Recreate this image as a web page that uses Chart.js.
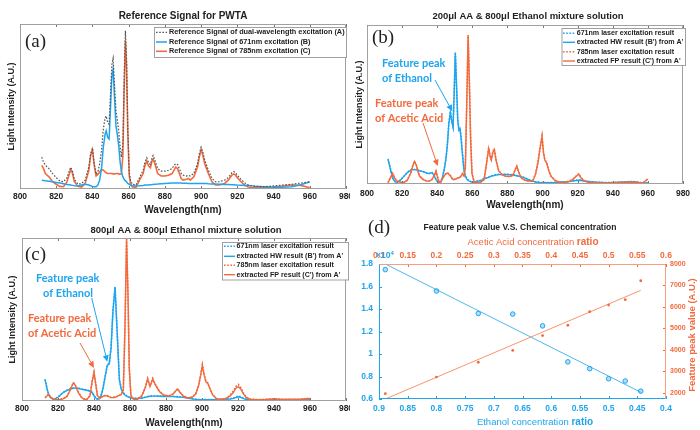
<!DOCTYPE html>
<html>
<head>
<meta charset="utf-8">
<script src="https://cdn.jsdelivr.net/npm/chart.js@4.4.1/dist/chart.umd.min.js"></script>
<style>
  html, body { margin: 0; padding: 0; background: #fff; }
  #wrap { position: relative; width: 700px; height: 430px; overflow: hidden; }
  #wrap canvas { position: absolute; }
</style>
</head>
<body>
<div id="wrap">
  <canvas id="pa" width="350" height="215" style="left:0;top:0"></canvas>
  <canvas id="pb" width="350" height="215" style="left:350px;top:0"></canvas>
  <canvas id="pc" width="350" height="215" style="left:0;top:215px"></canvas>
  <canvas id="pd" width="350" height="215" style="left:350px;top:215px"></canvas>
</div>
<script>
// ---- data (intensities normalised to the plot height) ----
const wlTicks = [800, 820, 840, 860, 880, 900, 920, 940, 960, 980];

// (a) reference signals
const wlA = [812, 813, 814, 816, 818, 820, 822, 824, 826, 827,
  828, 829, 830, 832, 834, 836, 838, 839, 840, 841,
  842, 843, 844, 845, 846, 847, 847.6, 848.4, 849.2, 850,
  850.7, 851.4, 852.2, 853, 853.7, 854.5, 855.3, 856, 856.8, 857.5,
  858.2, 858.8, 859.5, 860.3, 861, 862, 864, 866, 868, 869,
  870, 871, 872, 873, 873.5, 874.5, 876, 878, 880, 882,
  884, 885, 886, 887, 888, 889, 890, 892, 893, 894,
  896, 898, 899, 900, 901, 902, 903, 904, 906, 908,
  910, 913, 915, 917, 918, 919, 920, 922, 924, 926,
  928, 930, 935, 940, 945, 950, 955, 958, 960];
const refDual = [0.19, 0.16, 0.14, 0.12, 0.09, 0.065, 0.045, 0.04, 0.065, 0.10,
  0.128, 0.105, 0.055, 0.025, 0.03, 0.05, 0.13, 0.21, 0.245, 0.15,
  0.085, 0.1, 0.15, 0.23, 0.36, 0.43, 0.44, 0.40, 0.39, 0.58,
  0.75, 0.79, 0.63, 0.47, 0.42, 0.35, 0.25, 0.19, 0.27, 0.66,
  0.96, 0.80, 0.38, 0.10, 0.05, 0.025, 0.02, 0.065, 0.11, 0.16,
  0.185, 0.155, 0.145, 0.19, 0.20, 0.17, 0.12, 0.105, 0.105, 0.11,
  0.12, 0.14, 0.15, 0.145, 0.12, 0.09, 0.08, 0.075, 0.08, 0.075,
  0.09, 0.15, 0.21, 0.25, 0.22, 0.17, 0.14, 0.11, 0.06, 0.04,
  0.04, 0.05, 0.065, 0.095, 0.102, 0.095, 0.08, 0.055, 0.035, 0.02,
  0.015, 0.012, 0.01, 0.015, 0.02, 0.025, 0.032, 0.036, 0.04];
const ref671 = [0.05, 0.048, 0.046, 0.043, 0.04, 0.036, 0.032, 0.028, 0.024, 0.022,
  0.02, 0.018, 0.016, 0.014, 0.02, 0.025, 0.02, 0.016, 0.012, 0.01,
  0.01, 0.02, 0.05, 0.12, 0.25, 0.33, 0.35, 0.31, 0.30, 0.50,
  0.68, 0.725, 0.55, 0.38, 0.33, 0.26, 0.16, 0.10, 0.07, 0.055,
  0.045, 0.04, 0.03, 0.025, 0.02, 0.015, 0.015, 0.016, 0.018, 0.02,
  0.02, 0.021, 0.022, 0.023, 0.024, 0.025, 0.026, 0.028, 0.03, 0.031,
  0.032, 0.032, 0.032, 0.032, 0.032, 0.032, 0.031, 0.031, 0.03, 0.03,
  0.03, 0.03, 0.03, 0.03, 0.03, 0.029, 0.029, 0.028, 0.027, 0.026,
  0.025, 0.024, 0.023, 0.022, 0.022, 0.021, 0.02, 0.019, 0.018, 0.017,
  0.015, 0.013, 0.01, 0.007, 0.006, 0.01, 0.022, 0.032, 0.04];
const ref785 = [0.14, 0.12, 0.09, 0.07, 0.04, 0.025, 0.012, 0.01, 0.04, 0.08,
  0.115, 0.09, 0.04, 0.012, 0.008, 0.03, 0.11, 0.2, 0.235, 0.14,
  0.075, 0.085, 0.1, 0.115, 0.11, 0.1, 0.095, 0.09, 0.09, 0.09,
  0.09, 0.088, 0.088, 0.09, 0.09, 0.088, 0.085, 0.09, 0.2, 0.6,
  0.9, 0.75, 0.35, 0.08, 0.03, 0.01, 0.005, 0.05, 0.09, 0.14,
  0.165, 0.135, 0.125, 0.17, 0.178, 0.15, 0.09, 0.075, 0.075, 0.08,
  0.09, 0.11, 0.13, 0.12, 0.09, 0.06, 0.05, 0.055, 0.06, 0.05,
  0.07, 0.13, 0.19, 0.235, 0.2, 0.15, 0.12, 0.09, 0.04, 0.02,
  0.02, 0.03, 0.05, 0.08, 0.088, 0.08, 0.065, 0.04, 0.02, 0.008,
  0.004, 0.003, 0.004, 0.008, 0.014, 0.02, 0.018, 0.01, 0.003];

// (b) 200ul AA & 800ul ethanol
const wlB = [812, 813, 814.6, 816, 817, 819, 821, 823, 825, 826,
  827, 828, 829, 830, 832, 834, 835.5, 837, 838.3, 839.3,
  840.2, 841, 842, 843, 844, 845, 845.8, 846.6, 847.5, 848.2,
  849, 849.6, 850.3, 851, 851.7, 852.4, 853, 853.7, 854.4, 855.2,
  856, 856.8, 857.6, 858.3, 859, 859.8, 861, 863, 865, 866.7,
  868, 869.3, 870.2, 870.8, 871.7, 872.5, 873.5, 875, 877, 879,
  881, 883, 884.5, 885.3, 886.5, 887.8, 890, 892, 894.4, 896,
  897.3, 898.5, 899.7, 900.5, 901.3, 902.4, 903.6, 904.8, 907, 909.6,
  912, 915, 917.2, 919, 920.6, 922, 923.8, 926.7, 930, 935,
  940, 945, 950, 953, 955, 957, 960];
const laser671B = [0.155, 0.11, 0.035, 0.01, 0.005, 0.02, 0.045, 0.07, 0.085, 0.088,
  0.088, 0.087, 0.084, 0.08, 0.075, 0.066, 0.063, 0.07, 0.05, 0.025,
  0.012, 0.008, 0.01, 0.04, 0.09, 0.16, 0.25, 0.38, 0.455, 0.40,
  0.36, 0.55, 0.83, 0.62, 0.40, 0.34, 0.35, 0.28, 0.19, 0.09,
  0.05, 0.03, 0.02, 0.015, 0.012, 0.01, 0.01, 0.015, 0.02, 0.03,
  0.035, 0.04, 0.045, 0.048, 0.05, 0.052, 0.055, 0.057, 0.058, 0.058,
  0.057, 0.055, 0.052, 0.05, 0.047, 0.044, 0.035, 0.025, 0.015, 0.01,
  0.008, 0.006, 0.005, 0.005, 0.005, 0.005, 0.005, 0.005, 0.006, 0.008,
  0.01, 0.012, 0.016, 0.02, 0.022, 0.02, 0.016, 0.012, 0.008, 0.006,
  0.005, 0.008, 0.012, 0.01, 0.006, 0.004, 0.003];
const hwB = [0.15, 0.105, 0.033, 0.009, 0.005, 0.02, 0.044, 0.068, 0.083, 0.087,
  0.087, 0.086, 0.083, 0.079, 0.074, 0.065, 0.062, 0.068, 0.048, 0.024,
  0.011, 0.007, 0.009, 0.038, 0.088, 0.158, 0.245, 0.375, 0.45, 0.395,
  0.355, 0.545, 0.825, 0.615, 0.395, 0.335, 0.345, 0.27, 0.18, 0.085,
  0.047, 0.028, 0.018, 0.014, 0.011, 0.009, 0.009, 0.014, 0.019, 0.028,
  0.033, 0.038, 0.043, 0.046, 0.048, 0.05, 0.053, 0.055, 0.056, 0.056,
  0.055, 0.053, 0.05, 0.048, 0.045, 0.042, 0.033, 0.023, 0.014, 0.009,
  0.007, 0.005, 0.004, 0.004, 0.004, 0.004, 0.004, 0.004, 0.005, 0.007,
  0.009, 0.011, 0.015, 0.018, 0.02, 0.018, 0.015, 0.011, 0.007, 0.005,
  0.004, 0.007, 0.011, 0.009, 0.005, 0.003, 0.002];
const laser785B = [0.005, 0.03, 0.063, 0.03, 0.015, 0.008, 0.006, 0.02, 0.07, 0.11,
  0.14, 0.12, 0.08, 0.046, 0.025, 0.015, 0.015, 0.025, 0.05, 0.078,
  0.04, 0.008, 0.01, 0.03, 0.05, 0.062, 0.067, 0.06, 0.05, 0.035,
  0.025, 0.025, 0.028, 0.03, 0.035, 0.036, 0.04, 0.05, 0.063, 0.05,
  0.1, 0.5, 0.937, 0.65, 0.3, 0.067, 0.01, 0.005, 0.01, 0.025,
  0.12, 0.224, 0.17, 0.15, 0.2, 0.218, 0.15, 0.08, 0.055, 0.046,
  0.044, 0.05, 0.09, 0.109, 0.07, 0.036, 0.02, 0.015, 0.015, 0.06,
  0.13, 0.22, 0.30, 0.2, 0.15, 0.13, 0.08, 0.046, 0.02, 0.008,
  0.005, 0.012, 0.025, 0.045, 0.06, 0.035, 0.015, 0.006, 0.005, 0.004,
  0.005, 0.007, 0.008, 0.008, 0.005, 0.001, 0.03];
const fpB = [0.004, 0.028, 0.06, 0.028, 0.014, 0.007, 0.006, 0.02, 0.068, 0.108,
  0.138, 0.118, 0.078, 0.045, 0.024, 0.014, 0.014, 0.024, 0.048, 0.075,
  0.038, 0.007, 0.009, 0.028, 0.048, 0.06, 0.065, 0.058, 0.048, 0.033,
  0.024, 0.024, 0.027, 0.029, 0.034, 0.035, 0.039, 0.048, 0.06, 0.048,
  0.095, 0.49, 0.93, 0.64, 0.29, 0.062, 0.009, 0.004, 0.009, 0.024,
  0.118, 0.22, 0.167, 0.147, 0.196, 0.214, 0.147, 0.078, 0.053, 0.045,
  0.043, 0.048, 0.088, 0.106, 0.068, 0.035, 0.019, 0.014, 0.014, 0.058,
  0.127, 0.216, 0.295, 0.197, 0.147, 0.127, 0.078, 0.045, 0.019, 0.007,
  0.004, 0.011, 0.024, 0.043, 0.058, 0.034, 0.014, 0.005, 0.004, 0.003,
  0.004, 0.006, 0.007, 0.007, 0.004, 0.001, 0.028];

// (c) 800ul AA & 800ul ethanol
const wlC = [812.8, 814, 814.6, 815.6, 817.4, 820, 822.9, 825, 827, 828.5,
  829.4, 830.5, 831.5, 833, 834.5, 836, 837.8, 839, 840, 841,
  841.9, 843, 844.2, 845.2, 846.2, 847.4, 848.5, 849.5, 850.5, 851.7,
  852.9, 854.1, 855.2, 856.3, 857.2, 858.1, 858.9, 859.6, 860.5, 862,
  864, 866.5, 868.5, 869.8, 871.1, 872.6, 874, 876.3, 878.5, 881.5,
  884, 885.5, 886.5, 887.8, 889.5, 892, 894.5, 896.5, 898, 899.3,
  900.2, 901.2, 902.2, 903.2, 904.5, 906, 908, 910, 913, 915.5,
  917.5, 918.8, 920.2, 921.5, 923, 924.5, 926.5, 930, 935, 940,
  945, 950, 955, 960];
const laser671C = [0.13, 0.07, 0.045, 0.02, 0.006, 0.02, 0.05, 0.063, 0.072, 0.076,
  0.078, 0.078, 0.075, 0.07, 0.067, 0.064, 0.058, 0.05, 0.03, 0.015,
  0.008, 0.01, 0.04, 0.088, 0.15, 0.22, 0.23, 0.33, 0.55, 0.70,
  0.415, 0.13, 0.07, 0.047, 0.035, 0.028, 0.024, 0.02, 0.016, 0.013,
  0.012, 0.015, 0.02, 0.024, 0.027, 0.028, 0.028, 0.027, 0.026, 0.026,
  0.025, 0.024, 0.023, 0.022, 0.02, 0.015, 0.01, 0.007, 0.005, 0.005,
  0.005, 0.005, 0.005, 0.005, 0.005, 0.005, 0.005, 0.006, 0.007, 0.01,
  0.015, 0.021, 0.027, 0.022, 0.013, 0.007, 0.004, 0.003, 0.003, 0.003,
  0.004, 0.005, 0.004, 0.005];
const hwC = [0.128, 0.068, 0.043, 0.019, 0.005, 0.019, 0.048, 0.061, 0.07, 0.074,
  0.076, 0.076, 0.073, 0.068, 0.065, 0.062, 0.056, 0.048, 0.028, 0.014,
  0.007, 0.009, 0.038, 0.085, 0.146, 0.215, 0.225, 0.325, 0.545, 0.695,
  0.41, 0.125, 0.067, 0.045, 0.033, 0.026, 0.022, 0.018, 0.015, 0.012,
  0.011, 0.014, 0.018, 0.022, 0.025, 0.026, 0.026, 0.025, 0.024, 0.024,
  0.023, 0.022, 0.021, 0.02, 0.018, 0.014, 0.009, 0.006, 0.004, 0.004,
  0.004, 0.004, 0.004, 0.004, 0.004, 0.004, 0.004, 0.005, 0.006, 0.008,
  0.012, 0.017, 0.022, 0.018, 0.011, 0.006, 0.003, 0.002, 0.002, 0.002,
  0.003, 0.004, 0.003, 0.004];
const laser785C = [0.016, 0.03, 0.037, 0.025, 0.006, 0.005, 0.01, 0.025, 0.07, 0.11,
  0.1, 0.07, 0.047, 0.02, 0.008, 0.006, 0.03, 0.12, 0.174, 0.1,
  0.03, 0.016, 0.02, 0.028, 0.03, 0.028, 0.022, 0.018, 0.018, 0.02,
  0.025, 0.032, 0.037, 0.07, 0.45, 1.0, 0.65, 0.2, 0.03, 0.008,
  0.006, 0.027, 0.08, 0.135, 0.088, 0.135, 0.1, 0.057, 0.035, 0.027,
  0.04, 0.062, 0.072, 0.05, 0.028, 0.016, 0.02, 0.04, 0.09, 0.16,
  0.22, 0.16, 0.115, 0.108, 0.07, 0.033, 0.012, 0.006, 0.01, 0.03,
  0.06, 0.085, 0.098, 0.08, 0.045, 0.02, 0.008, 0.005, 0.006, 0.01,
  0.007, 0.006, 0.008, 0.012];
const fpC = [0.015, 0.029, 0.035, 0.024, 0.005, 0.004, 0.009, 0.024, 0.068, 0.107,
  0.097, 0.068, 0.045, 0.019, 0.007, 0.005, 0.029, 0.117, 0.17, 0.097,
  0.029, 0.015, 0.019, 0.027, 0.029, 0.027, 0.021, 0.017, 0.017, 0.019,
  0.024, 0.031, 0.036, 0.068, 0.44, 0.99, 0.64, 0.195, 0.029, 0.007,
  0.005, 0.026, 0.078, 0.131, 0.085, 0.131, 0.097, 0.055, 0.034, 0.026,
  0.039, 0.06, 0.07, 0.048, 0.027, 0.015, 0.019, 0.039, 0.087, 0.155,
  0.214, 0.155, 0.112, 0.105, 0.068, 0.032, 0.011, 0.005, 0.009, 0.026,
  0.05, 0.075, 0.084, 0.07, 0.04, 0.018, 0.007, 0.004, 0.005, 0.009,
  0.006, 0.005, 0.007, 0.011];

// (d) feature peak value vs concentration
const ethanolRatio = [0.889, 0.8, 0.727, 0.667, 0.615, 0.571, 0.533, 0.5, 0.471, 0.444];
const ethanolPeak = [1.75, 1.56, 1.36, 1.355, 1.25, 0.93, 0.87, 0.78, 0.76, 0.67]; // x10^4
const acidRatio = [0.111, 0.2, 0.273, 0.333, 0.385, 0.429, 0.467, 0.5, 0.529, 0.556];
const acidPeak = [1970, 2740, 3430, 3980, 4670, 5150, 5780, 6090, 6340, 7220];
const ethanolFitX = [0.889, 0.444];
const ethanolFitY = [1.80, 0.66];
const acidFitX = [0.111, 0.556];
const acidFitY = [1720, 6775];
const ethanolTicks = [0.9, 0.85, 0.8, 0.75, 0.7, 0.65, 0.6, 0.55, 0.5, 0.45, 0.4];
const acidTicks = [0.1, 0.15, 0.2, 0.25, 0.3, 0.35, 0.4, 0.45, 0.5, 0.55, 0.6];
const peakTicksL = [0.6, 0.8, 1, 1.2, 1.4, 1.6, 1.8];
const peakTicksR = [2000, 3000, 4000, 5000, 6000, 7000, 8000];

// ---- styling ----
const BLUE = '#1ea5ee';
const ORANGE = '#f26a3d';
const DARK = '#222';
const SANS = '"Liberation Sans", Arial, sans-serif';
const tickFont = { family: SANS, size: 8.5, weight: 'bold' };
const NOTE_FONT = 'bold 11px Lato, "Open Sans", sans-serif';
const SERIF = '19px "Liberation Serif", "Times New Roman", serif';
const noGrid = { display: false, drawTicks: false, tickLength: 0 };

function pts(xs, ys) { return xs.map((x, i) => ({ x: x, y: ys[i] })); }
function fmt(v) { return String(Math.round(v * 100) / 100); }

function lineDs(label, xs, ys, color, dotted, order, width) {
  return {
    label: label, data: pts(xs, ys), borderColor: color, backgroundColor: color,
    borderWidth: width || (dotted ? 1.6 : 1.4), borderDash: dotted ? [1.6, 1.6] : [],
    pointRadius: 0, tension: 0, fill: false, order: order || 0
  };
}

function drawRich(ctx, t) {
  ctx.save();
  ctx.translate(t.x, t.y);
  if (t.rotate) ctx.rotate(t.rotate);
  ctx.fillStyle = t.color || DARK;
  ctx.textBaseline = 'middle';
  ctx.textAlign = 'left';
  let w = 0;
  t.parts.forEach(p => { ctx.font = p[1]; w += ctx.measureText(p[0]).width; });
  let x = t.align === 'left' ? 0 : -w / 2;
  t.parts.forEach(p => {
    ctx.font = p[1];
    ctx.fillText(p[0], x, p[2] || 0);
    x += ctx.measureText(p[0]).width;
  });
  ctx.restore();
}

// frame, inward ticks, titles, legend box and arrows
const deco = {
  id: 'deco',
  afterDatasetsDraw(chart, args, o) {
    const ctx = chart.ctx, a = chart.chartArea;
    ctx.save();
    ctx.lineWidth = 1;
    (o.ticks || []).forEach(t => {
      const s = chart.scales[t.scale];
      ctx.strokeStyle = t.color;
      ctx.beginPath();
      s.ticks.forEach(tk => {
        const p = Math.round(s.getPixelForValue(tk.value)) + 0.5;
        t.sides.forEach(side => {
          if (side === 'bottom') { ctx.moveTo(p, a.bottom); ctx.lineTo(p, a.bottom - 3); }
          if (side === 'top') { ctx.moveTo(p, a.top); ctx.lineTo(p, a.top + 3); }
          if (side === 'left') { ctx.moveTo(a.left, p); ctx.lineTo(a.left + 3, p); }
          if (side === 'right') { ctx.moveTo(a.right, p); ctx.lineTo(a.right - 3, p); }
        });
      });
      ctx.stroke();
    });
    const f = o.frame;
    const L = Math.round(a.left) + 0.5, R = Math.round(a.right) - 0.5;
    const T = Math.round(a.top) + 0.5, B = Math.round(a.bottom) - 0.5;
    [[f.left, L, T, L, B], [f.right, R, T, R, B], [f.top, L, T, R, T], [f.bottom, L, B, R, B]].forEach(s => {
      ctx.strokeStyle = s[0];
      ctx.beginPath(); ctx.moveTo(s[1], s[2]); ctx.lineTo(s[3], s[4]); ctx.stroke();
    });
    ctx.restore();
  },
  afterDraw(chart, args, o) {
    const ctx = chart.ctx;
    ctx.save();
    if (o.legend) {
      const g = o.legend;
      ctx.fillStyle = '#fff';
      ctx.strokeStyle = '#a0a0a0';
      ctx.lineWidth = 1;
      ctx.fillRect(g.box[0], g.box[1], g.box[2], g.box[3]);
      ctx.strokeRect(g.box[0] + 0.5, g.box[1] + 0.5, g.box[2], g.box[3]);
      ctx.font = g.font;
      ctx.textBaseline = 'middle';
      ctx.textAlign = 'left';
      chart.data.datasets.forEach((d, i) => {
        const y = g.rows[i];
        ctx.strokeStyle = d.borderColor;
        ctx.lineWidth = d.borderWidth;
        ctx.setLineDash(d.borderDash || []);
        ctx.beginPath(); ctx.moveTo(g.sx[0], y); ctx.lineTo(g.sx[1], y); ctx.stroke();
        ctx.setLineDash([]);
        ctx.fillStyle = DARK;
        ctx.fillText(d.label, g.tx, y);
      });
    }
    (o.notes || []).forEach(n => {
      ctx.fillStyle = n.color;
      ctx.strokeStyle = n.color;
      ctx.font = NOTE_FONT;
      ctx.textBaseline = 'middle';
      ctx.textAlign = 'left';
      n.lines.forEach(l => ctx.fillText(l[0], l[1], l[2]));
      const tx = chart.scales.x.getPixelForValue(n.tip[0]);
      const ty = chart.scales.y.getPixelForValue(n.tip[1]);
      const sx = n.from[0], sy = n.from[1];
      const ang = Math.atan2(ty - sy, tx - sx), hl = 6.5, hw = 3;
      const bx = tx - hl * Math.cos(ang), by = ty - hl * Math.sin(ang);
      ctx.lineWidth = 1;
      ctx.beginPath(); ctx.moveTo(sx, sy); ctx.lineTo(bx, by); ctx.stroke();
      ctx.beginPath();
      ctx.moveTo(tx, ty);
      ctx.lineTo(bx + hw * Math.sin(ang), by - hw * Math.cos(ang));
      ctx.lineTo(bx - hw * Math.sin(ang), by + hw * Math.cos(ang));
      ctx.closePath(); ctx.fill();
    });
    ctx.restore();
    (o.texts || []).forEach(t => drawRich(ctx, t));
  }
};

const grayFrame = { left: '#a0a0a0', right: '#a0a0a0', top: '#a0a0a0', bottom: '#a0a0a0' };

function spectrumChart(id, datasets, box, opts) {
  return new Chart(document.getElementById(id), {
    type: 'line',
    data: { datasets: datasets },
    options: {
      responsive: false, animation: false, devicePixelRatio: 1,
      layout: { padding: { left: 0, top: box.top, right: 350 - box.right, bottom: 0 } },
      plugins: {
        legend: { display: false }, title: { display: false }, tooltip: { enabled: false },
        deco: Object.assign({ frame: grayFrame, ticks: [{ scale: 'x', sides: ['bottom', 'top'], color: '#777' }] }, opts)
      },
      scales: {
        x: {
          type: 'linear', min: 800, max: 980,
          afterBuildTicks: s => { s.ticks = wlTicks.map(v => ({ value: v })); },
          afterFit: s => { s.height = 215 - box.bottom; s.paddingLeft = 0; s.paddingRight = 0; },
          grid: noGrid, border: { display: false },
          ticks: { color: DARK, font: tickFont, padding: box.tickPad, maxRotation: 0, autoSkip: false, callback: v => String(v) },
          title: { display: true, text: 'Wavelength(nm)', color: DARK,
            font: { family: SANS, size: 10, weight: 'bold', lineHeight: 1 }, padding: { top: 0, bottom: box.xTitlePad } }
        },
        y: {
          type: 'linear', min: -0.004, max: 1,
          afterFit: s => { s.width = box.left; s.paddingTop = 0; s.paddingBottom = 0; },
          grid: noGrid, border: { display: false },
          ticks: { display: false },
          title: { display: true, text: 'Light Intensity (A.U.)', color: DARK,
            font: { family: SANS, size: 9, weight: 'bold' }, padding: { top: box.yTitlePad, bottom: 0 } }
        }
      }
    },
    plugins: [deco]
  });
}

// (a)
spectrumChart('pa', [
  lineDs('Reference Signal of dual-wavelength excitation (A)', wlA, refDual, '#555', true, 0, 1.2),
  lineDs('Reference Signal of 671nm excitation (B)', wlA, ref671, BLUE, false, 0, 1.5),
  lineDs('Reference Signal of 785nm excitation (C)', wlA, ref785, ORANGE, false, 0, 1.6)
], { left: 20, top: 24, right: 346, bottom: 189, tickPad: 3, xTitlePad: 0, yTitlePad: 6.6 }, {
  legend: { box: [154, 27, 192, 30], rows: [32.3, 42, 51.3], sx: [156, 167], tx: 169, font: 'bold 7.3px ' + SANS },
  texts: [
    { parts: [['Reference Signal for PWTA', 'bold 10px ' + SANS]], x: 183, y: 16 },
    { parts: [['(a)', SERIF]], x: 25, y: 42, align: 'left' }
  ]
});

// (b)
spectrumChart('pb', [
  lineDs('671nm laser excitation result', wlB, laser671B, BLUE, true, 2),
  lineDs("extracted HW result (B') from A'", wlB, hwB, BLUE, false, 2),
  lineDs('785nm laser excitation result', wlB, laser785B, ORANGE, true, 1),
  lineDs("extracted FP result (C') from A'", wlB, fpB, ORANGE, false, 1)
], { left: 17, top: 25, right: 333, bottom: 184, tickPad: 5, xTitlePad: 5, yTitlePad: 4.6 }, {
  legend: { box: [211.5, 28, 123.5, 37], rows: [33.3, 42.3, 51.7, 61], sx: [213, 225], tx: 226.7, font: 'bold 7.1px ' + SANS },
  notes: [
    { color: BLUE, lines: [['Feature peak', 32, 63], ['of Ethanol', 32, 78]], from: [85, 80], tip: [848.6, 0.455] },
    { color: ORANGE, lines: [['Feature peak', 25, 103], ['of Acetic Acid', 25, 118]], from: [73, 123], tip: [840.3, 0.109] }
  ],
  texts: [
    { parts: [['200μl AA & 800μl Ethanol mixture solution', 'bold 9.5px ' + SANS]], x: 178, y: 16.5 },
    { parts: [['(b)', SERIF]], x: 22, y: 38, align: 'left' }
  ]
});

// (c)
spectrumChart('pc', [
  lineDs('671nm laser excitation result', wlC, laser671C, BLUE, true, 2),
  lineDs("extracted HW result (B') from A'", wlC, hwC, BLUE, false, 2),
  lineDs('785nm laser excitation result', wlC, laser785C, ORANGE, true, 1),
  lineDs("extracted FP result (C') from A'", wlC, fpC, ORANGE, false, 1)
], { left: 22, top: 23, right: 346, bottom: 186, tickPad: 3, xTitlePad: 2, yTitlePad: 7.6 }, {
  legend: { box: [222, 27, 126, 37.5], rows: [31.3, 41.3, 50.3, 59.7], sx: [224, 235], tx: 236.5, font: 'bold 7.1px ' + SANS },
  notes: [
    { color: BLUE, lines: [['Feature peak', 36, 63], ['of Ethanol', 43, 78]], from: [91.7, 83], tip: [847.4, 0.237] },
    { color: ORANGE, lines: [['Feature peak', 28, 103], ['of Acetic Acid', 28, 118]], from: [80, 128], tip: [840, 0.2] }
  ],
  texts: [
    { parts: [['800μl AA & 800μl Ethanol mixture solution', 'bold 9.5px ' + SANS]], x: 186, y: 15 },
    { parts: [['(c)', SERIF]], x: 25, y: 40, align: 'left' }
  ]
});

// (d)
function fixedAxis(extra) {
  return Object.assign({
    type: 'linear', grid: noGrid, border: { display: false }
  }, extra);
}
new Chart(document.getElementById('pd'), {
  type: 'line',
  data: {
    datasets: [
      { label: 'Ethanol', data: pts(ethanolRatio, ethanolPeak), xAxisID: 'x', yAxisID: 'y', showLine: false,
        pointRadius: 2.3, pointBorderWidth: 1, borderColor: BLUE, backgroundColor: 'rgba(30,165,238,0.35)' },
      { label: 'Ethanol fit', data: pts(ethanolFitX, ethanolFitY), xAxisID: 'x', yAxisID: 'y',
        borderColor: '#4cb8f0', borderWidth: 1, pointRadius: 0 },
      { label: 'Acetic Acid', data: pts(acidRatio, acidPeak), xAxisID: 'x2', yAxisID: 'y2', showLine: false,
        pointRadius: 1.4, pointBorderWidth: 0, borderColor: ORANGE, backgroundColor: ORANGE },
      { label: 'Acetic Acid fit', data: pts(acidFitX, acidFitY), xAxisID: 'x2', yAxisID: 'y2',
        borderColor: '#f7956e', borderWidth: 1, pointRadius: 0 }
    ]
  },
  options: {
    responsive: false, animation: false, devicePixelRatio: 1,
    layout: { padding: 0 },
    plugins: {
      legend: { display: false }, title: { display: false }, tooltip: { enabled: false },
      deco: {
        frame: { left: BLUE, bottom: BLUE, top: '#f5a080', right: '#f5a080' },
        ticks: [
          { scale: 'x', sides: ['bottom'], color: BLUE },
          { scale: 'x2', sides: ['top'], color: ORANGE },
          { scale: 'y', sides: ['left'], color: BLUE },
          { scale: 'y2', sides: ['right'], color: ORANGE }
        ],
        texts: [
          { parts: [['Feature peak value V.S. Chemical concentration', 'bold 8.5px ' + SANS]], x: 170, y: 13 },
          { parts: [['(d)', SERIF]], x: 18, y: 13, align: 'left' },
          { parts: [['Acetic Acid concentration ', '9.5px ' + SANS], ['ratio', 'bold 10px ' + SANS]], x: 183, y: 27, color: ORANGE },
          { parts: [['Ethanol concentration ', '9.5px ' + SANS], ['ratio', 'bold 10px ' + SANS]], x: 185, y: 207, color: BLUE },
          { parts: [['Feature peak value (A.U.)', 'bold 9.5px ' + SANS]], x: 342, y: 120, rotate: -Math.PI / 2, color: ORANGE },
          { parts: [['×10', 'bold 8.5px ' + SANS], ['4', 'bold 6px ' + SANS, -3]], x: 26, y: 41, align: 'left', color: BLUE }
        ]
      }
    },
    scales: {
      x: fixedAxis({ position: 'bottom', min: 0.4, max: 0.9, reverse: true,
        afterBuildTicks: s => { s.ticks = ethanolTicks.map(v => ({ value: v })); },
        afterFit: s => { s.height = 31; s.paddingLeft = 0; s.paddingRight = 0; },
        ticks: { color: BLUE, font: tickFont, padding: 5, maxRotation: 0, autoSkip: false, callback: fmt } }),
      x2: fixedAxis({ position: 'top', min: 0.1, max: 0.6,
        afterBuildTicks: s => { s.ticks = acidTicks.map(v => ({ value: v })); },
        afterFit: s => { s.height = 49; s.paddingLeft = 0; s.paddingRight = 0; },
        ticks: { color: ORANGE, font: tickFont, padding: 3, maxRotation: 0, autoSkip: false, callback: fmt } }),
      y: fixedAxis({ position: 'left', min: 0.6, max: 1.8,
        afterBuildTicks: s => { s.ticks = peakTicksL.map(v => ({ value: v })); },
        afterFit: s => { s.width = 29; s.paddingTop = 0; s.paddingBottom = 0; },
        ticks: { color: BLUE, font: tickFont, padding: 6, autoSkip: false, callback: fmt } }),
      y2: fixedAxis({ position: 'right', min: 1720, max: 8000,
        afterBuildTicks: s => { s.ticks = peakTicksR.map(v => ({ value: v })); },
        afterFit: s => { s.width = 34; s.paddingTop = 0; s.paddingBottom = 0; },
        ticks: { color: ORANGE, font: { family: SANS, size: 7, weight: 'bold' }, padding: 4, autoSkip: false, callback: fmt } })
    }
  },
  plugins: [deco]
});
</script>
</body>
</html>
